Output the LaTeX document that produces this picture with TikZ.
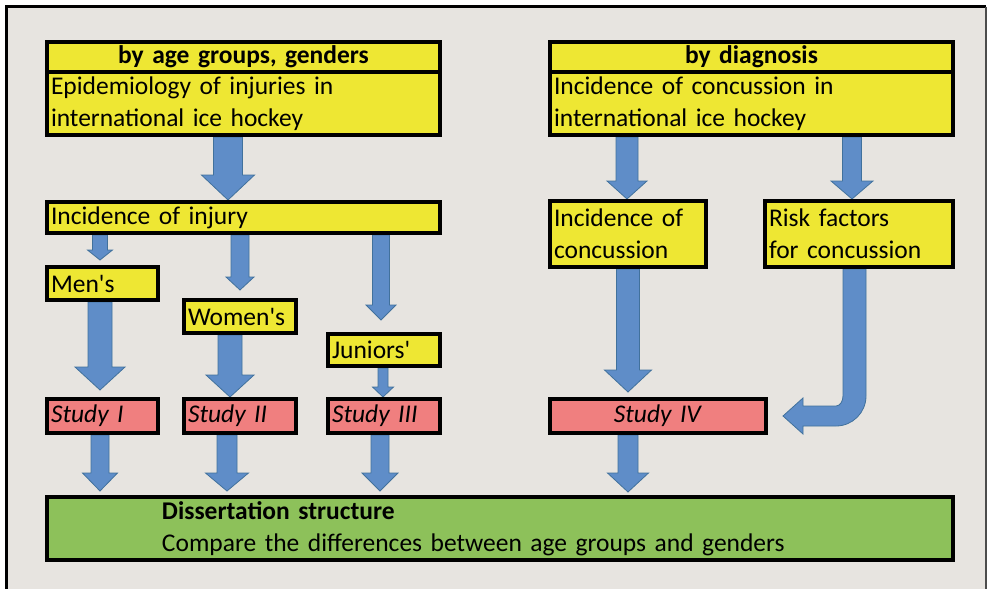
\documentclass[tikz,border=0pt]{standalone}
\usepackage{fontspec}
\setmainfont{Carlito}
\usetikzlibrary{calc}
\definecolor{yel}{HTML}{EEE733}
\definecolor{pinkc}{HTML}{F07F7F}
\definecolor{greenc}{HTML}{8DC15A}
\definecolor{bgc}{HTML}{E7E4E0}
\definecolor{arrfill}{HTML}{5F8DC8}
\definecolor{arrline}{HTML}{41719C}
\tikzset{
  box/.style={draw=black, line width=4pt, anchor=north west, inner xsep=4pt, inner ysep=0pt,
    font=\fontsize{25.5}{32}\selectfont, text=black},
  ybox/.style={box, fill=yel},
  pbox/.style={box, fill=pinkc},
  gbox/.style={box, fill=greenc},
  blockarrow/.style={fill=arrfill, draw=arrline, line width=0.8pt, line join=miter}
}
% #1 name, #2 style, #3 x1, #4 y1, #5 x2, #6 y2 (outer edges), #7 align, #8 text
\newcommand\bx[8]{%
  \pgfmathsetmacro\bw{#5-#3-4}\pgfmathsetmacro\bh{#6-#4-4}\pgfmathsetmacro\tw{#5-#3-12}%
  \node[#2, minimum width=\bw pt, minimum height=\bh pt, text width=\tw pt, align=#7] (#1) at (#3,#4) {#8};}
% #1 from, #2 to (tip), #3 shaft half width, #4 head half width, #5 head length
\newcommand\barrow[5]{%
  \path[blockarrow] let \p1=#1, \p2=#2 in
   (\x1-#3,\y1) -- (\x1-#3,\y2+#5) -- (\x1-#4,\y2+#5) -- (\x1,\y2) --
   (\x1+#4,\y2+#5) -- (\x1+#3,\y2+#5) -- (\x1+#3,\y1) -- cycle;}
\newcommand\allboxes{%
\bx{A1}{ybox}{45}{40}{442}{74}{center}{\textbf{by age groups, genders}}
\bx{A2}{ybox}{45}{70}{442}{137}{left}{Epidemiology of injuries in\\international ice hockey}
\bx{B1}{ybox}{548}{40}{955}{74}{center}{\textbf{by diagnosis}}
\bx{B2}{ybox}{548}{70}{955}{137}{left}{Incidence of concussion in\\international ice hockey}
\bx{Inj}{ybox}{45}{200}{442}{235}{left}{Incidence of injury}
\bx{Men}{ybox}{45}{265}{160}{302}{left}{Men\textquotesingle s}
\bx{Wom}{ybox}{182}{298}{298}{335}{left}{Women\textquotesingle s}
\bx{Jun}{ybox}{326}{332}{442}{368}{left}{Juniors\textquotesingle}
\bx{S1}{pbox}{45}{397}{160}{435}{left}{\textit{Study I}}
\bx{S2}{pbox}{182}{397}{298}{435}{left}{\textit{Study II}}
\bx{S3}{pbox}{326}{397}{442}{435}{left}{\textit{Study III}}
\bx{Conc}{ybox}{548}{199}{708}{269}{left}{Incidence of\\concussion}
\bx{Risk}{ybox}{763}{199}{955}{269}{left}{Risk factors\\for concussion}
\bx{S4}{pbox}{548}{397}{768}{435}{center}{\textit{Study IV}}
\bx{G}{gbox}{45}{495}{955}{562}{left}{\hspace*{111pt}\textbf{Dissertation structure}\\\hspace*{111pt}Compare the differences between age groups and genders}}
\begin{document}
\begin{tikzpicture}[x=1pt,y=-1pt]
\fill[white] (0,0) rectangle (989,589);
\useasboundingbox (0,0) rectangle (989,589);
\fill[bgc] (6.5,6.5) rectangle (986,589);
\draw[black, line width=3pt] (6.5,589) -- (6.5,6.5) -- (986,6.5);
\draw[black!70, line width=1.5pt] (986,6.5) -- (986,589);

% boxes first (to define anchors)
\allboxes

% block arrows
\barrow{(A2.south -| 228,0)}{(Inj.north)}{14.5pt}{26.5pt}{25pt}
\barrow{(Inj.south -| 100,0)}{($(Men.north)+(0,-5)$)}{7.5pt}{12.5pt}{10pt}
\barrow{(Inj.south -| 240,0)}{($(Wom.north)+(0,-8)$)}{9pt}{14pt}{13pt}
\barrow{(Inj.south -| 381,0)}{($(Jun.north)+(0,-12)$)}{8.5pt}{15pt}{15pt}
\barrow{(Men.south -| 100,0)}{($(S1.north)+(0,-7)$)}{12pt}{25pt}{23pt}
\barrow{(Wom.south -| 230,0)}{(S2.north)}{12pt}{24pt}{22pt}
\barrow{(Jun.south -| 383,0)}{(S3.north)}{5pt}{10.5pt}{10pt}
\barrow{(S1.south -| 100,0)}{($(G.north)+(0,-4)$)}{9pt}{17.5pt}{18pt}
\barrow{(S2.south -| 227,0)}{($(G.north)+(0,-4)$)}{10pt}{21.5pt}{18pt}
\barrow{(S3.south -| 380,0)}{($(G.north)+(0,-4)$)}{9pt}{18pt}{18pt}
\barrow{(S4.south -| 628,0)}{($(G.north)+(0,-3)$)}{10pt}{20.5pt}{19pt}
\barrow{(B2.south -| 627,0)}{(Conc.north)}{11pt}{20pt}{18pt}
\barrow{(B2.south -| 852,0)}{(Risk.north)}{9.5pt}{21pt}{18pt}
\barrow{(Conc.south -| 628,0)}{($(S4.north)+(0,-5)$)}{11.5pt}{23.5pt}{22pt}
% curved arrow from risk factors to Study IV
\path[blockarrow] let \p1=(Risk.south -| 854.5,0), \p2=($(S4.east)+(15,0)$) in
 (\x1+11.5pt,\y1) -- (\x1+11.5pt,\y2+20pt)
 .. controls (\x1+11.5pt,\y2+3.4pt) and (\x1-1.9pt,\y2-10pt) .. (\x1-18.5pt,\y2-10pt)
 -- (\x2+20pt,\y2-10pt) -- (\x2+20pt,\y2-18pt) -- (\x2,\y2) -- (\x2+20pt,\y2+18pt)
 -- (\x2+20pt,\y2+10pt) -- (\x1-18.5pt,\y2+10pt)
 .. controls (\x1-14.6pt,\y2+10pt) and (\x1-11.5pt,\y2+14.5pt) .. (\x1-11.5pt,\y2+20pt)
 -- (\x1-11.5pt,\y1) -- cycle;

% boxes again, on top of the arrow shafts
\allboxes
\end{tikzpicture}
\end{document}
